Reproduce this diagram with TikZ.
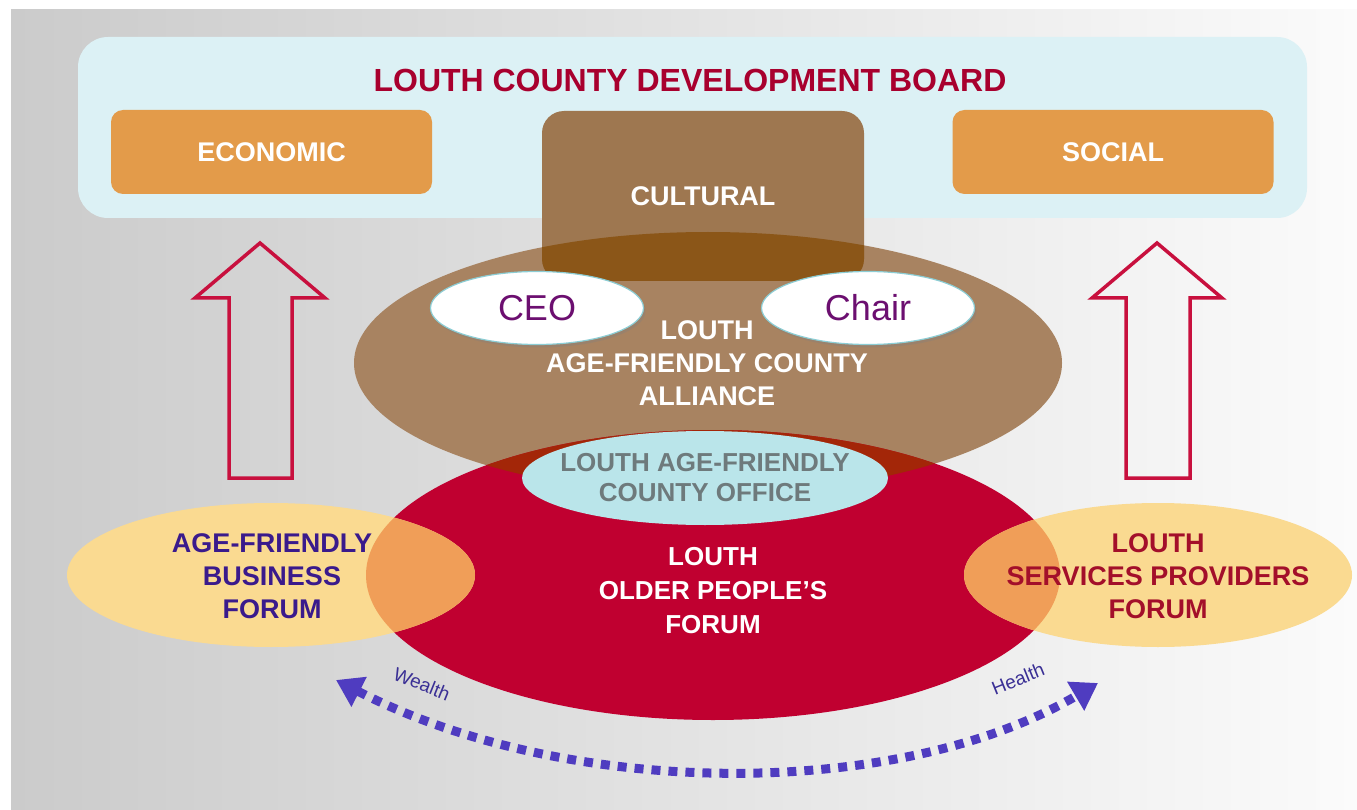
\documentclass[tikz,border=0pt]{standalone}
\usepackage{fontspec}
\setmainfont{Liberation Sans}
\usetikzlibrary{shapes.geometric,shadows,arrows.meta}
\definecolor{bgleft}{RGB}{203,203,203}
\definecolor{bgright}{RGB}{251,251,251}
\definecolor{boardfill}{RGB}{220,241,245}
\definecolor{titlered}{RGB}{168,0,46}
\definecolor{orangebox}{RGB}{227,155,74}
\definecolor{culture}{RGB}{158,119,80}
\definecolor{culturedark}{RGB}{139,86,24}
\definecolor{alliance}{RGB}{168,131,97}
\definecolor{forumred}{RGB}{192,0,48}
\definecolor{overlapred}{RGB}{163,38,8}
\definecolor{yellowforum}{RGB}{250,218,145}
\definecolor{overlaporange}{RGB}{240,158,88}
\definecolor{officefill}{RGB}{186,229,234}
\definecolor{officetext}{RGB}{110,122,124}
\definecolor{ceoborder}{RGB}{140,205,212}
\definecolor{ceotext}{RGB}{108,15,112}
\definecolor{navytext}{RGB}{58,26,140}
\definecolor{servred}{RGB}{163,15,42}
\definecolor{arrowred}{RGB}{200,16,62}
\definecolor{wealthblue}{RGB}{79,60,192}
\definecolor{labelblue}{RGB}{58,47,149}
\begin{document}
\begin{tikzpicture}[x=1pt,y=-1pt,
  box/.style={rounded corners=12pt, minimum width=321pt, minimum height=84pt, text=white, font=\bfseries\fontsize{27}{30}\selectfont},
  bigtext/.style={align=center, font=\bfseries\fontsize{27}{33}\selectfont},
  role/.style={ellipse, fill=white, draw=ceoborder, line width=1.2pt, minimum width=213pt, minimum height=73pt, inner sep=0pt, text=ceotext, font=\fontsize{36}{40}\selectfont, drop shadow={opacity=0.35, shadow xshift=2pt, shadow yshift=-3pt}},
  uparrow/.style={draw=arrowred, line width=3.5pt, miter limit=10},
  smalltext/.style={text=labelblue, font=\fontsize{19}{22}\selectfont},
  wh/.style={draw=wealthblue, line width=9pt, dash pattern=on 9pt off 8pt, {Triangle[length=26pt,width=32pt]}-{Triangle[length=26pt,width=32pt]}}]
\useasboundingbox (0,0) rectangle (1357,810);
\shade[left color=bgleft, right color=bgright] (11,10) rectangle (1357,810);
\fill[boardfill, rounded corners=30pt] (78,37) rectangle (1307,218);
\node[titlered, font=\bfseries\fontsize{32}{36}\selectfont] (board) at (690,80) {LOUTH COUNTY DEVELOPMENT BOARD};
\node[box, fill=orangebox] (econ) at (271.5,152) {ECONOMIC};
\node[box, fill=orangebox] (social) at (1113,152) {SOCIAL};
\fill[alliance] (708,363) ellipse [x radius=354pt, y radius=131pt];
\node[box, fill=culture, minimum width=322pt, minimum height=170pt, rounded corners=22pt] (cultural) at (703,196) {CULTURAL};
\begin{scope}
\clip (708,363) ellipse [x radius=354pt, y radius=131pt];
\fill[culturedark, rounded corners=22pt] (542,111) rectangle (864,281);
\end{scope}
\fill[forumred] (713,575) ellipse [x radius=347pt, y radius=145pt];
\begin{scope}
\clip (713,575) ellipse [x radius=347pt, y radius=145pt];
\fill[overlapred] (708,363) ellipse [x radius=354pt, y radius=131pt];
\end{scope}
\fill[yellowforum] (271,575) ellipse [x radius=204pt, y radius=72pt];
\fill[yellowforum] (1158,575) ellipse [x radius=194pt, y radius=72pt];
\begin{scope}
\clip (713,575) ellipse [x radius=347pt, y radius=145pt];
\fill[overlaporange] (271,575) ellipse [x radius=204pt, y radius=72pt];
\fill[overlaporange] (1158,575) ellipse [x radius=194pt, y radius=72pt];
\end{scope}
\fill[officefill] (705,478) ellipse [x radius=183pt, y radius=47pt];
\node[role] (ceo) at (537,308) {CEO};
\node[role] (chair) at (868,308) {Chair};
\node[bigtext, text=white] (alliancetext) at (707,363) {LOUTH\\AGE-FRIENDLY COUNTY\\ALLIANCE};
\node[bigtext, text=officetext, font=\bfseries\fontsize{26}{30}\selectfont] (office) at (705,478) {LOUTH AGE-FRIENDLY\\COUNTY OFFICE};
\node[bigtext, text=white, font=\bfseries\fontsize{26}{34}\selectfont] (olderforum) at (713,591) {LOUTH\\OLDER PEOPLE’S\\FORUM};
\node[bigtext, text=navytext] (bizforum) at (272,576) {AGE-FRIENDLY\\BUSINESS\\FORUM};
\node[bigtext, text=servred] (servforum) at (1158,576) {LOUTH\\SERVICES PROVIDERS\\FORUM};
\draw[uparrow] (260,243) -- (325,298) -- (292,298) -- (292,478) -- (229,478) -- (229,298) -- (195,298) -- cycle;
\draw[uparrow] (1157,243) -- (1222,298) -- (1190,298) -- (1190,478) -- (1126,478) -- (1126,298) -- (1092,298) -- cycle;
\coordinate (wl) at (336,680);
\coordinate (hr) at (1098,683);
\draw[wh] (wl) .. controls (570,800) and (900,800) .. (hr);
\node[smalltext, rotate=-22] (wealth) at (422,684) {Wealth};
\node[smalltext, rotate=22] (health) at (1018,679) {Health};
\end{tikzpicture}
\end{document}
